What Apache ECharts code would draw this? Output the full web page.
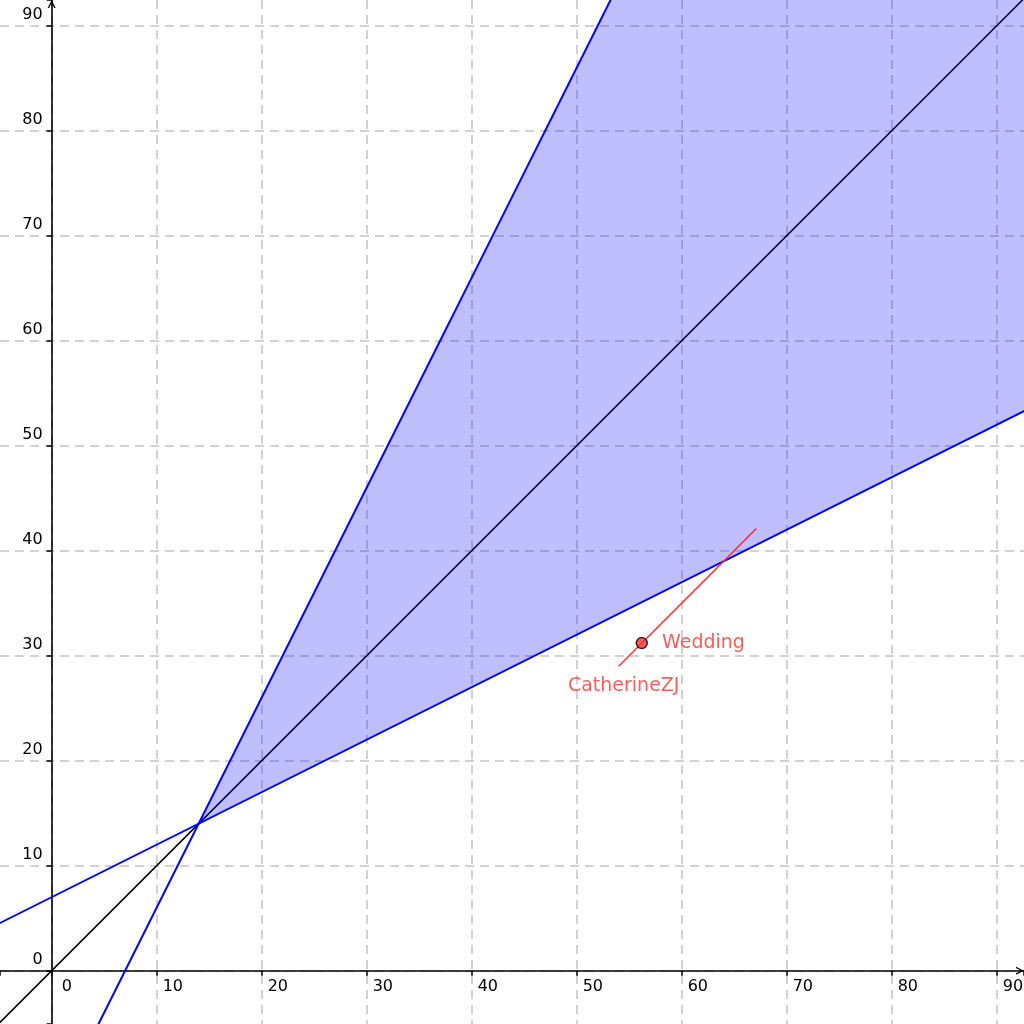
<!DOCTYPE html>
<html>
<head>
<meta charset="UTF-8">
<title>Wedding</title>
<script type="text/javascript" src="https://cdn.jsdelivr.net/npm/echarts@6/dist/echarts.min.js"></script>
<style>
  html, body { margin: 0; padding: 0; background: #fff; }
</style>
</head>
<body>
<div id="main" style="width:1024px;height:1024px"></div>
<script type="text/javascript">
// lines, each as two end points
var diagX = [-6, 96], diagY = [-6, 96];               // y = x
var steepX = [4, 55], steepY = [-6, 96];              // y = 2x - 14
var flatX = [-6, 96], flatY = [4, 55];                // y = 0.5x + 7
// shaded band between the two blue lines (far corner well outside the view)
var bandX = [14, 107, 200, 200], bandY = [14, 200, 200, 107];
// red segment and point
var segX = [54, 67.1], segY = [29, 42.1];
var pointX = [56.2], pointY = [31.2];
var pointName = 'Wedding';
var segName = 'CatherineZJ';

var X_MIN = -4.92, X_MAX = 92.6, Y_MIN = -5.08, Y_MAX = 92.45;
var W = 1024, H = 1024;

var FONT = 'DejaVu Sans';
// open arrow head, pointing up
var arrow = 'path://M0,10 L5,0 L10,10 L8.2,10 L5,3.6 L1.8,10 Z';

function pairs(xs, ys) {
  return xs.map(function (x, i) { return [x, ys[i]]; });
}

function tickLabel(v) {
  if (Math.abs(v % 10) > 1e-6) return '';
  return String(Math.round(v));
}

// shift the axes from the grid edge onto the zero lines
var xShift = -(0 - Y_MIN) / (Y_MAX - Y_MIN) * H;
var yShift = -(0 - X_MIN) / (X_MAX - X_MIN) * W;

var myEcharts = echarts.init(document.getElementById('main'));

var gridLine = {
  show: true, showMinLine: false, showMaxLine: false,
  lineStyle: { color: '#c4c4c4', type: [9, 6], width: 1.5 }
};
var axisLine = {
  onZero: false,
  symbol: ['none', arrow], symbolSize: [11, 8], symbolOffset: [0, -4],
  lineStyle: { color: '#000', width: 1.6 }
};

var option = {
  backgroundColor: '#ffffff',
  animation: false,
  grid: { left: 0, right: 0, top: 0, bottom: 0, containLabel: false, outerBoundsMode: 'none' },
  xAxis: {
    type: 'value',
    min: X_MIN, max: X_MAX,
    splitNumber: 10, minInterval: 10, maxInterval: 10,
    offset: xShift,
    axisLine: axisLine,
    axisTick: { show: true, length: 5, lineStyle: { color: '#000', width: 1.5 } },
    axisLabel: {
      formatter: function (v) {
        var t = tickLabel(v);
        return t === '0' ? '{z|0}' : t;
      },
      rich: { z: { fontFamily: FONT, fontSize: 16, color: '#000', padding: [0, 0, 0, 4] } },
      align: 'left', margin: 8, padding: [0, 0, 0, 6],
      fontFamily: FONT, fontSize: 16, color: '#000'
    },
    splitLine: gridLine
  },
  yAxis: {
    type: 'value',
    min: Y_MIN, max: Y_MAX,
    splitNumber: 10, minInterval: 10, maxInterval: 10,
    offset: yShift,
    axisLine: axisLine,
    axisTick: { show: true, length: 5, lineStyle: { color: '#000', width: 1.5 } },
    axisLabel: {
      formatter: tickLabel,
      align: 'right', verticalAlign: 'bottom', margin: 9, padding: [0, 0, 3, 0],
      fontFamily: FONT, fontSize: 16, color: '#000'
    },
    splitLine: gridLine
  },
  series: [
    {
      type: 'line', z: 2, symbol: 'none', silent: true,
      data: pairs(diagX, diagY),
      lineStyle: { color: '#000', width: 1.5 }
    },
    {
      type: 'custom', z: 3, silent: true,
      data: [0],
      renderItem: function (params, api) {
        var pts = bandX.map(function (x, i) { return api.coord([x, bandY[i]]); });
        return {
          type: 'polygon',
          shape: { points: pts },
          style: { fill: 'rgba(0,0,255,0.25)', stroke: null }
        };
      }
    },
    {
      type: 'line', z: 4, symbol: 'none', silent: true,
      data: pairs(steepX, steepY),
      lineStyle: { color: '#0000ff', width: 2 }
    },
    {
      type: 'line', z: 4, symbol: 'none', silent: true,
      data: pairs(flatX, flatY),
      lineStyle: { color: '#0000ff', width: 2 }
    },
    {
      type: 'line', z: 5, silent: true,
      symbol: 'none',
      data: pairs(segX, segY),
      lineStyle: { color: '#ff3333', width: 1.5 }
    },
    {
      type: 'scatter', z: 5, silent: true,
      data: [[segX[0], segY[0]]],
      symbolSize: 1,
      itemStyle: { color: 'rgba(0,0,0,0)' },
      label: { show: true, formatter: segName, position: 'bottom', offset: [5, 5],
               fontFamily: FONT, fontSize: 19, color: '#ff3333' }
    },
    {
      type: 'scatter', z: 6, silent: true,
      data: pairs(pointX, pointY),
      symbolSize: 11,
      itemStyle: { color: '#ff3333', borderColor: '#000', borderWidth: 1.5 },
      label: { show: true, formatter: pointName, position: 'right', distance: 14,
               fontFamily: FONT, fontSize: 19, color: '#ff3333' }
    }
  ]
};

myEcharts.setOption(option);
</script>
</body>
</html>
